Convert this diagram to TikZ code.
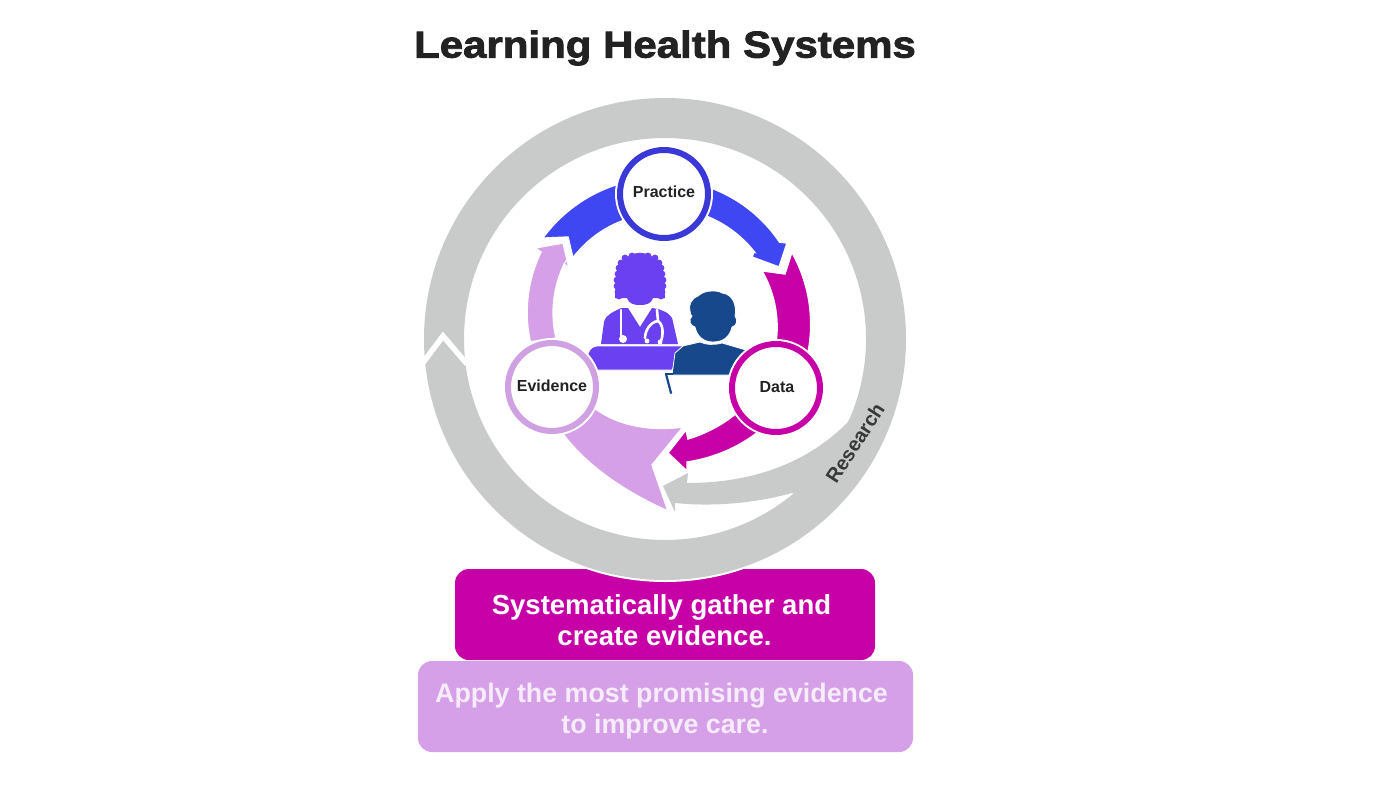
\documentclass[tikz,border=0pt]{standalone}
\usepackage{fontspec}
\setmainfont{Liberation Sans}
\newfontfamily\titlefont[BoldFeatures={FakeStretch=1.12,FakeBold=2.2}]{Liberation Sans}
\definecolor{ringgray}{HTML}{C9CBCB}
\definecolor{armblue}{HTML}{3F47F2}
\definecolor{ringblue}{HTML}{3A38D6}
\definecolor{armmag}{HTML}{C600A6}
\definecolor{armlil}{HTML}{D5A0E8}
\definecolor{ringlil}{HTML}{CFA0E2}
\definecolor{docviolet}{HTML}{6A40F0}
\definecolor{patblue}{HTML}{17488C}
\definecolor{inktext}{HTML}{222222}
\definecolor{softwhite}{HTML}{F6ECFA}
\tikzset{
  arm/.style={draw=white,line width=1.4pt,line join=miter},
  cyclenode/.style={circle,fill=white,draw=#1,line width=6pt,minimum size=88pt,inner sep=0pt,
    text=inktext,font=\fontsize{16}{16}\selectfont\bfseries},
  msgbox/.style={rounded corners=14pt,align=center,font=\bfseries},
  fig/.style={draw=white,line width=0.8pt,line join=round},
  steth/.style={draw=white,line width=2.6pt,line cap=round}
}
% arc about the centre of the inner cycle: radius #1->#2, angle #3->#4
\newcommand{\cyclearc}[4]{plot[domain=#3:#4,samples=24,smooth] ({664+(#1+(#2-#1)*(\x-(#3))/((#4)-(#3)))*cos(\x)},{323-(#1+(#2-#1)*(\x-(#3))/((#4)-(#3)))*sin(\x)})}
\newcommand{\cyclearcto}[4]{-- plot[domain=#3:#4,samples=24,smooth] ({664+(#1+(#2-#1)*(\x-(#3))/((#4)-(#3)))*cos(\x)},{323-(#1+(#2-#1)*(\x-(#3))/((#4)-(#3)))*sin(\x)})}
\begin{document}
\begin{tikzpicture}[x=1pt,y=-1pt]
\useasboundingbox (0,0) rectangle (1391,789);
% title
\node (title) at (665,48) {\titlefont\bfseries\color{inktext}\fontsize{37.5}{37.5}\selectfont Learning Health Systems};
% boxes
\node[msgbox,fill=armmag,text=white,minimum width=420pt,minimum height=91pt] (gather) at (665,614.5) {};
\node[msgbox,fill=armlil,minimum width=495pt,minimum height=91pt] (apply) at (665.5,706.5) {};
\node[text=white,align=center,font=\fontsize{27.5}{31}\selectfont\bfseries] (gathertext) at (661.5,620) {Systematically gather and\\\hspace*{6pt}create evidence.};
\node[text=softwhite,align=center,font=\fontsize{26.8}{31}\selectfont\bfseries] (applytext) at (661.5,711) {Apply the most promising evidence\\\hspace*{7pt}to improve care.};
% gray ring
\coordinate (rc) at (665,339);
\fill[white] (rc) circle[radius=243pt];
\fill[ringgray,even odd rule] (rc) circle[radius=241pt] (rc) circle[radius=201pt];
% gray inward branch
\fill[ringgray] (862,402) -- (847,423) .. controls (815,455) and (765,483) .. (687,483)
  -- (688,473) -- (663,486) -- (675,512) -- (675,503)
  .. controls (715,507) and (755,503) .. (792,493) -- (815,500) -- (880,440) -- cycle;
% chevron cut
\draw[white,line width=5.5pt,line join=miter] (422,364) -- (443,336) -- (467,364);
\node[rotate=57,text=inktext!90!white,font=\fontsize{20}{20}\selectfont\bfseries] (research) at (855,443) {Research};
% lower purple
\fill[armlil,arm] (588,402) .. controls (605,420) and (640,433) .. (683,427)
  -- (652,465) -- (668,511)
  .. controls (625,492) and (585,465) .. (560,430) -- cycle;
% magenta upper
\fill[armmag,arm] (792,252) \cyclearcto{146}{147}{29}{-13}
  \cyclearcto{114}{111}{-13}{28} -- (785,274) -- cycle;
% magenta lower
\fill[armmag,arm] (742,408) .. controls (728,422) and (708,433) .. (688,439)
  -- (686,430) -- (668,453) -- (687,471) -- (687,462)
  .. controls (715,458) and (745,445) .. (766,425) -- cycle;
% lilac upper
\fill[armlil,arm] \cyclearc{135}{142}{188}{150}
  -- (535,248) -- (563,243) -- (569,268) -- (564,264)
  \cyclearcto{116}{109}{149}{188} -- cycle;
% blue arms
\fill[armblue,arm] \cyclearc{143}{141}{72}{35}
  -- (787,243) -- (779,267) -- (752,257) -- (754,252)
  \cyclearcto{115}{115}{38}{72} -- cycle;
\fill[armblue,arm] \cyclearc{146}{148}{105}{145}
  -- (568,237) -- (573,258)
  \cyclearcto{112}{110}{144}{105} -- cycle;
% doctor: hair curls
\foreach \p/\q in {
 640/256,632/256,625/258,621/263,619/268,618/274,617/280,617/286,618/292,619/296,
 648/256,655/258,659/263,661/268,662/274,663/280,663/286,662/292,661/296}
  {\fill[docviolet] (\p,\q) circle[radius=3.4pt];}
\fill[docviolet] (640,253) .. controls (622,253) and (615,270) .. (615,298)
  -- (627,298) .. controls (629,304) and (634,305) .. (640,305)
  .. controls (646,305) and (651,304) .. (653,298) -- (665,298)
  .. controls (665,270) and (658,253) .. (640,253) -- cycle;
\fill[docviolet] (601,344) -- (604,322) .. controls (606,314) and (614,312) .. (621,308)
  -- (628,308) -- (640,327) -- (652,308) -- (658,309)
  .. controls (666,312) and (672,314) .. (673,322) -- (678,344) -- cycle;
\draw[steth] (621,310) -- (621,336);
\fill[white] (623,339) circle[radius=4pt];
\draw[steth] (657,310) -- (658,321) .. controls (650,322) and (645,331) .. (645,338);
\draw[steth] (658,321) .. controls (664,325) and (663,336) .. (661,341);
\fill[white] (647,341) circle[radius=2.4pt] (660,342) circle[radius=2.4pt];
% desk
\fill[docviolet,fig] (597,346) -- (683,346) -- (672,370) -- (595,370)
  .. controls (589,370) and (587,366) .. (587,360) .. controls (587,352) and (591,346) .. (597,346) -- cycle;
% patient
\fill[patblue,fig] (712,291) .. controls (705,291) and (702,293) .. (698,296)
  .. controls (692,298) and (688,305) .. (690,311)
  .. controls (690,314) and (691,315) .. (692,316)
  .. controls (688,320) and (690,326) .. (695,327)
  .. controls (697,336) and (703,342) .. (713,342)
  .. controls (724,342) and (730,336) .. (732,327)
  .. controls (737,326) and (738,320) .. (735,316)
  .. controls (737,306) and (733,294) .. (722,293)
  .. controls (719,291) and (715,291) .. (712,291) -- cycle;
\fill[patblue,fig] (683,346) -- (700,342) .. controls (706,345) and (715,345) .. (722,343)
  -- (746,350) -- (770,375) -- (672,375) -- (675,353) -- cycle;
\draw[patblue,line width=2.2pt,line cap=round] (666,374) -- (671,393);
\draw[patblue,line width=1.4pt] (665,374) -- (673,374);
% cycle nodes
\fill[white] (664,194) circle[radius=49pt] (776,388) circle[radius=49pt] (552,387) circle[radius=49pt];
\node[cyclenode=ringblue] (practice) at (664,194) {\raisebox{5pt}{Practice}};
\node[cyclenode=armmag] (data) at (776,388) {\raisebox{3pt}{\hspace*{2pt}Data}};
\node[cyclenode=ringlil] (evidence) at (552,387) {\raisebox{3pt}{Evidence}};
\end{tikzpicture}
\end{document}
